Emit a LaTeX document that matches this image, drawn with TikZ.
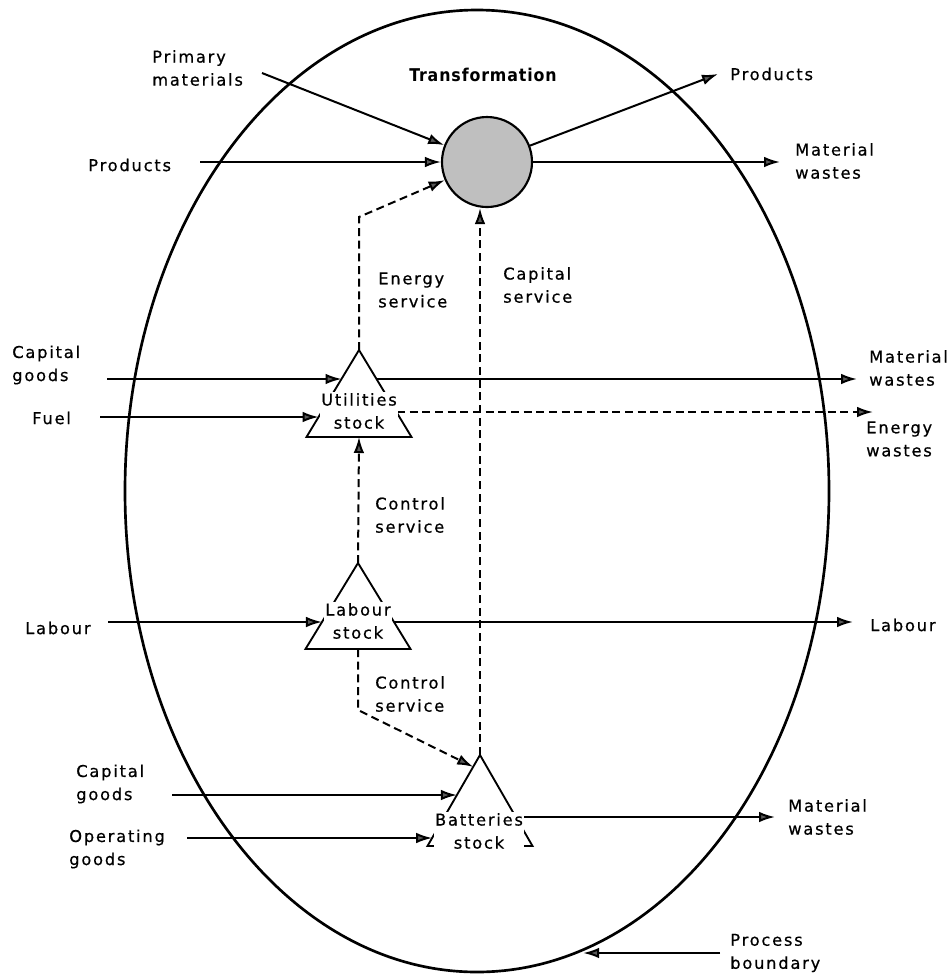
\documentclass[tikz,border=0pt]{standalone}
\usepackage{fontspec}
\setmainfont{DejaVu Sans}[LetterSpace=11,FakeBold=0.6]
\newfontfamily\titlefont{DejaVu Sans Condensed}[LetterSpace=5]
\usetikzlibrary{arrows.meta,positioning,calc,shapes.geometric}

\begin{document}
\begin{tikzpicture}[x=0.75pt,y=-0.75pt,>={Latex[length=12pt,width=8pt,fill=black!65]},
  lbl/.style={font=\fontsize{12.2}{17.3}\selectfont,align=left,inner sep=0pt,anchor=west},
  stocktxt/.style={font=\fontsize{12.2}{17.3}\selectfont,align=center,fill=white,inner sep=1pt},
  stocktri/.style={draw,line width=1.4pt,isosceles triangle,isosceles triangle stretches,shape border rotate=90,minimum width=78.75pt,minimum height=65.25pt,inner sep=0pt,outer sep=0pt,anchor=apex},
  flow/.style={->,line width=1.5pt},
  service/.style={flow,dash pattern=on 6pt off 3.5pt}]
\useasboundingbox (0,0) rectangle (951,976);
% process boundary and transformation
\node[draw,ellipse,line width=2pt,minimum width=528pt,minimum height=721.5pt,inner sep=0pt] (boundary) at (477,491) {};
\node[draw,circle,line width=1.6pt,fill=gray!50,minimum size=67.5pt,inner sep=0pt] (trans) at (487,162) {};
\node[font={\titlefont\bfseries\fontsize{13.2}{15}\selectfont}] (transtxt) at (483,75) {Transformation};
% stocks
\node[stocktri] (util) at (359,350) {};
\node[stocktri,minimum height=64.5pt] (labour) at (358,563) {};
\node[stocktri,minimum height=68.25pt] (bat) at (480,755) {};
% labels
\node[lbl] (pmlbl) at (152,68) {Primary\\materials};
\node[lbl] (prodin) at (88,165) {Products};
\node[lbl] (prodout) at (730,74) {Products};
\node[lbl] (mwtop) at (795,161) {Material\\wastes};
\node[lbl] (enserv) at (378,290) {Energy\\service};
\node[lbl] (capserv) at (503,285) {Capital\\service};
\node[lbl] (capgtop) at (12,365) {Capital\\goods};
\node[lbl] (fuel) at (32,418) {Fuel};
\node[lbl] (mwmid) at (869,368) {Material\\wastes};
\node[lbl] (enwaste) at (866,439) {Energy\\wastes};
\node[lbl] (ctrlup) at (375,515) {Control\\service};
\node[lbl] (labin) at (25,628) {Labour};
\node[lbl] (labout) at (870,625) {Labour};
\node[lbl] (ctrldown) at (375,694) {Control\\service};
\node[lbl] (capgbot) at (76,784) {Capital\\goods};
\node[lbl] (opgoods) at (69,849) {Operating\\goods};
\node[lbl] (mwbot) at (788,817) {Material\\wastes};
\node[lbl] (procb) at (730,953) {Process\\boundary};
% free ends
\coordinate (pmin) at (262,73);
\coordinate (prodinS) at (200,162);
\coordinate (prodoutE) at (718,74);
\coordinate (mwtopE) at (780,162);
\coordinate (ebend) at (359,217);
\coordinate (capgtopS) at (107,379);
\coordinate (mwmidE) at (857,379);
\coordinate (fuelS) at (100,417);
\coordinate (enwasteE) at (873,412);
\coordinate (labinS) at (108,622);
\coordinate (laboutE) at (853,622);
\coordinate (cbend) at (358,710);
\coordinate (capgbotS) at (172,795);
\coordinate (opgoodsS) at (187,838);
\coordinate (mwbotE) at (775,817);
\coordinate (procbS) at (720,953);
% points on the stock sides
\coordinate (utilA) at ($(util.apex)!0.333!(util.left corner)$);
\coordinate (utilB) at ($(util.apex)!0.333!(util.right corner)$);
\coordinate (utilC) at ($(util.apex)!0.77!(util.left corner)$);
\coordinate (utilD) at ($(util.apex)!0.724!(util.right corner)$);
\coordinate (labourA) at ($(labour.apex)!0.686!(labour.left corner)$);
\coordinate (labourB) at ($(labour.apex)!0.686!(labour.right corner)$);
\coordinate (batA) at ($(bat.apex)!0.13!(bat.left corner)$);
\coordinate (batB) at ($(bat.apex)!0.44!(bat.left corner)$);
\coordinate (batC) at ($(bat.apex)!0.912!(bat.left corner)$);
\coordinate (batD) at ($(bat.apex)!0.681!(bat.right corner)$);
% flows
\draw[flow] (pmin) -- (trans);
\draw[flow] (prodinS) -- (trans.west);
\draw[flow] (trans) -- (prodoutE);
\draw[flow] (trans.east) -- (mwtopE);
\draw[service] (util.apex) -- (ebend) -- (trans);
\draw[service] (bat.apex) -- (bat.apex |- trans.south);
\draw[flow] (capgtopS) -- (capgtopS -| utilA);
\draw[flow] (mwmidE -| utilB) -- (mwmidE);
\draw[flow] (fuelS) -- (fuelS -| utilC);
\draw[service] (enwasteE -| utilD) -- (enwasteE);
\draw[service] (labour.apex) -- (util.lower side);
\draw[flow] (labinS) -- (labinS -| labourA);
\draw[flow] (laboutE -| labourB) -- (laboutE);
\draw[service] (labour.lower side) -- (cbend) -- (batA);
\draw[flow] (capgbotS) -- (capgbotS -| batB);
\draw[flow] (opgoodsS) -- (opgoodsS -| batC);
\draw[flow] (mwbotE -| batD) -- (mwbotE);
\draw[flow] (procbS) -- (procbS -| boundary.-77);
% stock names
\node[stocktxt] (utiltxt) at (359,411) {Utilities\\stock};
\node[stocktxt] (labtxt) at (358,621) {Labour\\stock};
\node[stocktxt] (battxt) at (479,831) {Batteries\\stock};
\end{tikzpicture}
\end{document}
